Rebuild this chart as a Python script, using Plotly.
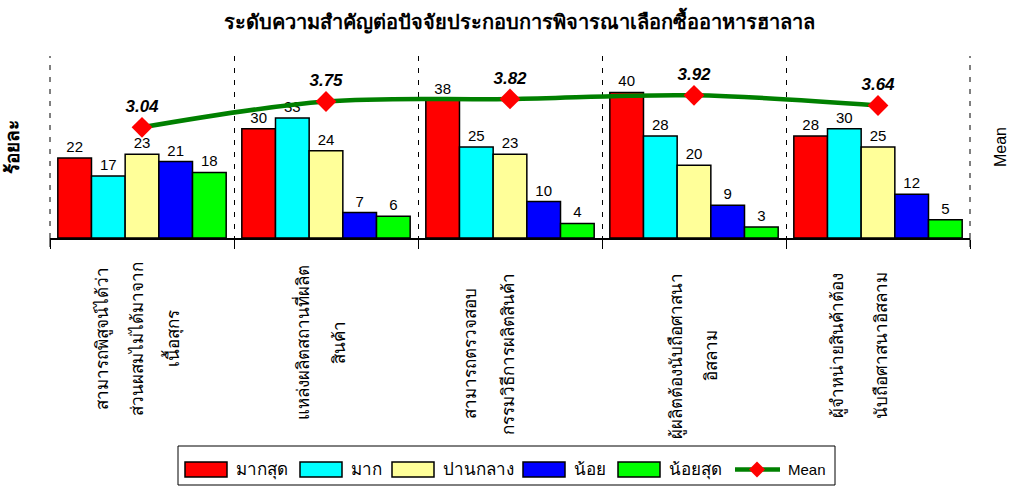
import plotly.graph_objects as go

# Survey factors (category axis), one list of lines per factor
categories = ["F1", "F2", "F3", "F4", "F5"]
category_lines = [
    ["สามารถพิสูจน์ได้ว่า", "ส่วนผสมไม่ได้มาจาก", "เนื้อสุกร"],
    ["แหล่งผลิตสถานที่ผลิต", "สินค้า"],
    ["สามารถตรวจสอบ", "กรรมวิธีการผลิตสินค้า"],
    ["ผู้ผลิตต้องนับถือศาสนา", "อิสลาม"],
    ["ผู้จำหน่ายสินค้าต้อง", "นับถือศาสนาอิสลาม"],
]

# Percentage of respondents per importance level
series_names = ["มากสุด", "มาก", "ปานกลาง", "น้อย", "น้อยสุด"]
most = [22, 30, 38, 40, 28]
much = [17, 33, 25, 28, 30]
medium = [23, 24, 23, 20, 25]
little = [21, 7, 10, 9, 12]
least = [18, 6, 4, 3, 5]

# Mean importance score per factor
mean_name = "Mean"
mean_scores = [3.04, 3.75, 3.82, 3.92, 3.64]

title_text = "ระดับความสำคัญต่อปัจจัยประกอบการพิจารณาเลือกซื้ออาหารฮาลาล"
y_title = "ร้อยละ"
y2_title = "Mean"

colors = ["#FF0000", "#00FFFF", "#FFFF99", "#0000FF", "#00FF00"]
LINE_GREEN = "#008000"
FONT = "Liberation Sans, Arial, sans-serif"

W, H = 1009, 487
ML, MR, MT, MB = 50, 39, 56, 249
PW, PH = W - ML - MR, H - MT - MB


def px_x(px):
    """Pixel column -> paper x."""
    return (px - ML) / PW


def px_y(py):
    """Pixel row -> paper y."""
    return (H - MB - py) / PH


fig = go.Figure()
for name, vals, col in zip(series_names, [most, much, medium, little, least], colors):
    fig.add_trace(go.Bar(
        x=categories, y=vals, name=name,
        marker=dict(color=col, line=dict(color="black", width=1.5)),
        text=[str(v) for v in vals], textposition="outside",
        textfont=dict(size=15, color="black", family=FONT),
        cliponaxis=False,
    ))

fig.add_trace(go.Scatter(
    x=categories, y=mean_scores, name=mean_name, yaxis="y2",
    mode="lines+markers+text",
    line=dict(color=LINE_GREEN, width=4.5, shape="spline", smoothing=1),
    marker=dict(symbol="diamond", size=16, color="#FF0000"),
    text=[f"{v:.2f}" for v in mean_scores], textposition="top center",
    textfont=dict(size=17, color="black", family=FONT, style="italic", weight="bold"),
    cliponaxis=False,
))

# Category labels, rotated, one annotation per line
label_center_px = [339, 343, 354, 356, 346]
first_shift = [-40, -24, -40, -17, -40]
line_gap = [35, 37, 38, 34, 43]
for i, (cat, lines) in enumerate(zip(categories, category_lines)):
    for j, line in enumerate(lines):
        fig.add_annotation(
            x=cat, xref="x", y=px_y(label_center_px[i]), yref="paper",
            text=line, textangle=-90, showarrow=False,
            xanchor="center", yanchor="middle",
            xshift=first_shift[i] + j * line_gap[i],
            font=dict(size=17, color="black", family=FONT),
        )

shapes = []
annotations = []

# Dashed separators on the outer edges of the plot area, with their ticks
for edge in (0, 1):
    shapes.append(dict(type="line", xref="paper", yref="paper",
                       x0=edge, x1=edge, y0=0, y1=1,
                       line=dict(color="black", width=1, dash="5px,7px"), layer="below"))
    shapes.append(dict(type="line", xref="paper", yref="paper",
                       x0=edge, x1=edge, y0=0, y1=px_y(247),
                       line=dict(color="black", width=1)))

# Legend box drawn below the axis
box = dict(x0=178, x1=835, y0=446, y1=485)
shapes.append(dict(type="rect", xref="paper", yref="paper",
                   x0=px_x(box["x0"]), x1=px_x(box["x1"]),
                   y0=px_y(box["y1"]), y1=px_y(box["y0"]),
                   line=dict(color="black", width=1), fillcolor="white", layer="above"))
swatch_left = [185, 300, 392, 523, 618]
for name, col, left in zip(series_names, colors, swatch_left):
    shapes.append(dict(type="rect", xref="paper", yref="paper",
                       x0=px_x(left), x1=px_x(left + 42),
                       y0=px_y(477), y1=px_y(462),
                       line=dict(color="black", width=1.5), fillcolor=col, layer="above"))
    annotations.append(dict(x=px_x(left + 49), y=px_y(469.5), xref="paper", yref="paper",
                            text=name, showarrow=False, xanchor="left", yanchor="middle",
                            font=dict(size=17, color="black", family=FONT)))
shapes.append(dict(type="line", xref="paper", yref="paper",
                   x0=px_x(735), x1=px_x(780), y0=px_y(469.5), y1=px_y(469.5),
                   line=dict(color=LINE_GREEN, width=4.5), layer="above"))
shapes.append(dict(type="path", xref="paper", yref="paper",
                   xsizemode="pixel", ysizemode="pixel",
                   xanchor=px_x(757), yanchor=px_y(469.5),
                   path="M -8 0 L 0 8 L 8 0 L 0 -8 Z",
                   line=dict(width=0), fillcolor="#FF0000", layer="above"))
annotations.append(dict(x=px_x(786), y=px_y(469.5), xref="paper", yref="paper",
                        text=mean_name, showarrow=False, xanchor="left", yanchor="middle",
                        font=dict(size=15, color="black", family=FONT)))

for a in annotations:
    fig.add_annotation(**a)

fig.update_layout(
    width=W, height=H,
    margin=dict(l=ML, r=MR, t=MT, b=MB, autoexpand=False),
    paper_bgcolor="white", plot_bgcolor="white",
    font=dict(family=FONT, color="black"),
    barmode="group", bargap=0.085, bargroupgap=0,
    showlegend=False,
    shapes=shapes,
    title=dict(text=title_text, x=0.515, xanchor="center", y=0.955, yanchor="middle",
               font=dict(size=20, weight="bold", color="black")),
    xaxis=dict(
        type="category", tickson="boundaries", ticks="outside", ticklen=9,
        tickcolor="black", showticklabels=False, automargin=False,
        showgrid=True, gridcolor="black", gridwidth=1, griddash="5px,7px",
        showline=True, linecolor="black", linewidth=1.5,
    ),
    yaxis=dict(
        range=[0, 50], showgrid=False, zeroline=False, showticklabels=False,
        ticks="", showline=False, automargin=False,
        title=dict(text=y_title, standoff=24, font=dict(size=19, weight="bold")),
    ),
    yaxis2=dict(
        range=[0, 5], overlaying="y", side="right", showgrid=False, zeroline=False,
        showticklabels=False, ticks="", showline=False, automargin=False,
        title=dict(text=y2_title, standoff=24, font=dict(size=16)),
    ),
)

fig.write_html("out.html")
